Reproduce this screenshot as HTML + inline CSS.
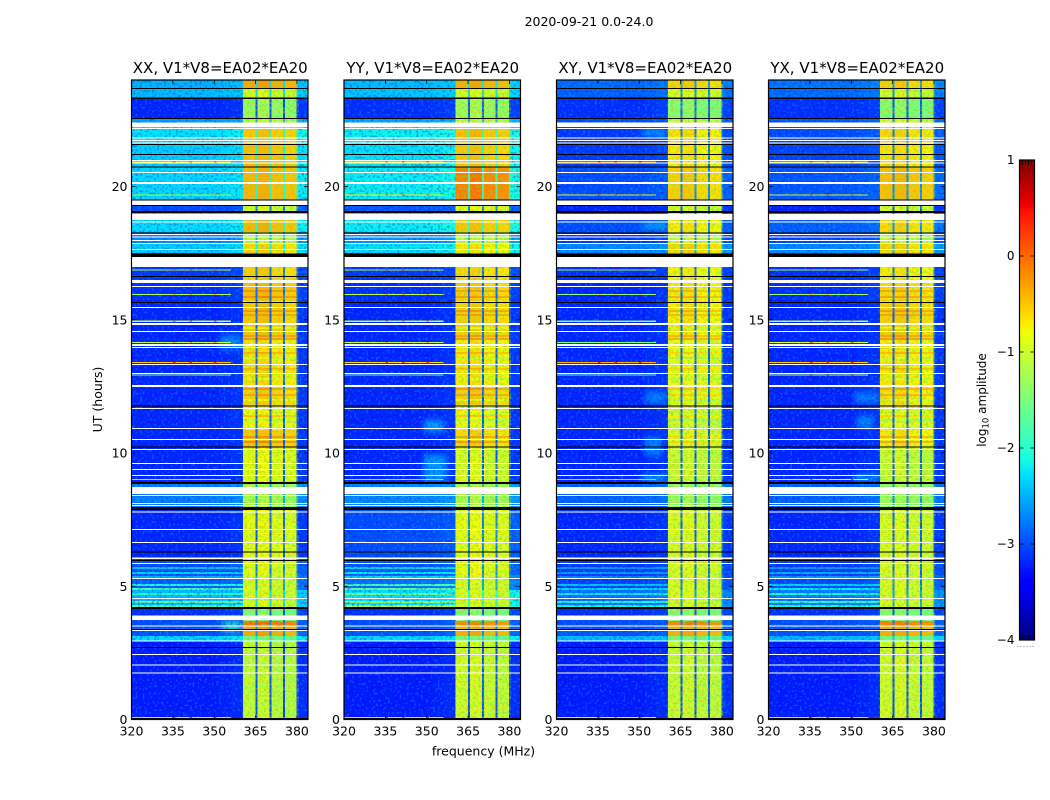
<!DOCTYPE html>
<html>
<head>
<meta charset="utf-8">
<title>2020-09-21 0.0-24.0</title>
<style>
html,body{margin:0;padding:0;background:#fff;}
svg{display:block;}
text{font-family:"DejaVu Sans","Liberation Sans",sans-serif;fill:#000;}
</style>
</head>
<body>
<svg id="fig" xmlns="http://www.w3.org/2000/svg" width="1050" height="800" viewBox="0 0 1050 800">
  <defs>
    <filter id="speckleBgLight" x="0" y="0" width="100%" height="100%" color-interpolation-filters="sRGB">
      <feTurbulence type="fractalNoise" baseFrequency="0.42" numOctaves="1" seed="4"/>
      <feColorMatrix type="matrix" values="0 0 0 0 0.1  0 0 0 0 0.68  0 0 0 0 1  8 0 0 0 -4.4"/>
    </filter>
    <filter id="speckleBgDark" x="0" y="0" width="100%" height="100%" color-interpolation-filters="sRGB">
      <feTurbulence type="fractalNoise" baseFrequency="0.42" numOctaves="1" seed="11"/>
      <feColorMatrix type="matrix" values="0 0 0 0 0  0 0 0 0 0.12  0 0 0 0 0.85  8 0 0 0 -4.2"/>
    </filter>
    <filter id="speckleRfiLight" x="0" y="0" width="100%" height="100%" color-interpolation-filters="sRGB">
      <feTurbulence type="fractalNoise" baseFrequency="0.42" numOctaves="1" seed="21"/>
      <feColorMatrix type="matrix" values="0 0 0 0 1  0 0 0 0 0.62  0 0 0 0 0  8 0 0 0 -4.2"/>
    </filter>
    <filter id="speckleRfiDark" x="0" y="0" width="100%" height="100%" color-interpolation-filters="sRGB">
      <feTurbulence type="fractalNoise" baseFrequency="0.42" numOctaves="1" seed="31"/>
      <feColorMatrix type="matrix" values="0 0 0 0 0.3  0 0 0 0 0.95  0 0 0 0 0.35  8 0 0 0 -4.2"/>
    </filter>
    <filter id="soft" x="-50%" y="-150%" width="200%" height="400%">
      <feGaussianBlur stdDeviation="3"/>
    </filter>
  </defs>
  <text x="589" y="26" text-anchor="middle" font-size="12.5">2020-09-21 0.0-24.0</text>
  <text x="483.5" y="755.5" text-anchor="middle" font-size="12.5">frequency (MHz)</text>
  <text transform="translate(102,399.5) rotate(-90)" text-anchor="middle" font-size="12.5">UT (hours)</text>
  <text transform="translate(986,400) rotate(-90)" text-anchor="middle" font-size="12">log<tspan font-size="8.5" dy="2.5">10</tspan><tspan dy="-2.5"> amplitude</tspan></text>
  <g id="panels"></g>
  <g id="colorbar"></g>
</svg>
<script>
// ---- categories ----
const panelNames = ["XX", "YY", "XY", "YX"];
const baselineLabel = "V1*V8=EA02*EA20";
const xTicks = [320, 335, 350, 365, 380];
const yTicks = [0, 5, 10, 15, 20];
const colorTicks = [1, 0, -1, -2, -3, -4];

// ---- time bands (UT hours, top to bottom) ----
const bandEdgesH = [24, 23.7, 23.32, 22.57, 22.23, 21.56, 20.73, 19.5, 19.01, 18.29, 17.84, 17.51, 16.98, 16.49, 15.74, 14.24, 12.55, 11.8, 10.86, 10.22, 8.91, 7.98, 6.0, 5.42, 4.86, 4.22, 3.89, 3.7, 3.51, 3.13, 2.95, 0];

// ---- log10 amplitude of quiet background, per band ----
const bgXX = [-2.5, -2.45, -3.2, -2.6, -2.25, -2.35, -2.3, -3, -2.28, -2.7, -2.35, -3, -3.1, -3.15, -3.2, -3.2, -3.2, -3.2, -3.2, -3.2, -2.75, -3.2, -3, -2.9, -2.45, -3.15, -3, -3, -2.95, -2.3, -3.25];
const bgYY = [-2.45, -2.4, -3.15, -2.55, -2.18, -2.25, -2.2, -2.95, -2.2, -2.65, -2.25, -3, -3.1, -3.15, -3.2, -3.2, -3.2, -3.2, -3.2, -3.2, -2.7, -3, -2.95, -2.8, -2.25, -3.15, -3, -3, -2.95, -2.3, -3.25];
const bgXY = [-2.85, -2.9, -3.15, -3, -3.1, -3.1, -3, -3.2, -3, -3.1, -2.7, -3, -3.15, -3.2, -3.2, -3.2, -3.2, -3.2, -3.2, -3.2, -2.9, -3.2, -3.1, -3.05, -2.8, -3.15, -3, -3, -2.95, -2.45, -3.25];
const bgYX = [-2.8, -2.85, -3.15, -2.95, -3, -3.05, -2.95, -3.2, -2.9, -3.05, -2.7, -3, -3.15, -3.15, -3.2, -3.2, -3.2, -3.2, -3.2, -3.2, -2.9, -3.2, -3.1, -3, -2.75, -3.15, -3, -3, -2.95, -2.45, -3.25];

// ---- log10 amplitude inside the 360-380 MHz interference block, per band ----
const rfiXX = [-0.3, -0.95, -1.35, -1.15, -0.5, -0.45, -0.4, -1, -0.4, -1.15, -0.6, -1, -0.55, -0.45, -0.5, -0.65, -0.55, -0.8, -0.5, -0.85, -1.25, -0.85, -0.9, -0.95, -0.95, -1.5, -1.5, 0, -0.3, -1.6, -1.1];
const rfiYY = [-0.35, -0.95, -1.3, -1.1, -0.45, -0.5, -0.1, -0.85, -0.5, -1.1, -0.7, -1, -0.6, -0.55, -0.55, -0.7, -0.55, -0.85, -0.6, -0.95, -1.25, -0.85, -0.85, -0.95, -0.95, -1.5, -1.5, -0.15, -0.35, -1.6, -1];
const rfiXY = [-0.55, -0.95, -1.45, -1, -0.65, -0.7, -0.55, -1, -0.7, -1.1, -0.6, -1, -0.75, -0.7, -0.7, -0.85, -0.85, -1, -0.95, -1.05, -1.35, -0.95, -0.95, -0.95, -0.95, -1.5, -1.5, -0.1, -0.35, -1.6, -1.05];
const rfiYX = [-0.55, -1, -1.45, -1, -0.6, -0.65, -0.45, -1, -0.6, -1.1, -0.6, -1, -0.7, -0.6, -0.55, -0.7, -0.65, -0.9, -0.7, -1.05, -1.35, -0.95, -0.95, -0.95, -0.95, -1.5, -1.5, -0.1, -0.35, -1.6, -1];

// ---- fine horizontal structure inside the interference block ----
const rfiStreakRowsH = [16.12, 15.89, 15.71, 15.37, 15.22, 14.73, 14.43, 14.32, 13.79, 13.6, 13.19, 12.82, 12.44, 12.22, 12.03, 11.43, 11.28, 10.64, 10.45];
const rfiStreakDelta = [0.25, 0.3, -0.3, 0.3, 0.25, -0.3, 0.25, 0.3, 0.25, -0.3, 0.25, -0.3, 0.3, 0.25, -0.3, 0.3, -0.25, 0.3, 0.35];

// ---- frequency channels (MHz edges) ----
const channelEdges = [320, 324, 328, 332, 336, 340, 344, 348, 352, 356, 360.4, 365, 365.7, 370, 370.7, 375, 375.7, 379.8, 380.4, 384];
const channelRfiWeight = [0, 0, 0, 0, 0, 0, 0, 0, 0, 0, 1, 0.1, 1, 0.1, 1, 0.1, 1, 0.1, 0];
const channelOffset = [0, 0, 0, 0, 0, 0, 0, 0, 0.03, 0.07, 0, 0, 0.05, 0, -0.05, 0, -0.08, 0, 0.1];

// ---- flagged (blank) records, [start, end] UT hours ----
const blankRows = [[22.4, 22.23], [22.2, 22.16], [21.84, 21.8], [21.75, 21.71], [21.65, 21.62], [21, 20.96], [20.9, 20.87], [20.55, 20.51], [20.17, 20.1], [19.5, 19.31], [18.97, 18.74], [18.69, 18.65], [18.22, 18.18], [18.13, 18.09], [17.99, 17.96], [17.88, 17.84], [17.66, 17.62], [17.36, 16.98], [16.49, 16.38], [16.27, 16.23], [15.48, 15.44], [14.88, 14.8], [14.58, 14.54], [14.09, 14.02], [13.98, 13.94], [13.34, 13.3], [13, 12.97], [12.55, 12.48], [11.69, 11.65], [10.94, 10.9], [10.53, 10.49], [10.15, 10.11], [9.63, 9.59], [9.4, 9.36], [9.18, 9.14], [8.73, 8.46], [8.43, 8.39], [8.13, 8.09], [8.05, 8.01], [7.81, 7.77], [7.15, 7.11], [6.66, 6.62], [6.08, 6.02], [5.87, 5.84], [5.31, 5.27], [4.56, 4.52], [3.9, 3.74], [3.53, 3.49], [3.36, 3.32], [2.97, 2.93], [2.46, 2.42], [2.07, 2.03], [1.77, 1.73]];

// ---- zero-amplitude (black) records, [start, end] UT hours ----
const zeroRows = [[23.7, 23.66], [23.34, 23.29], [22.57, 22.53], [21.6, 21.56], [21.22, 21.18], [20.75, 20.71], [19.52, 19.49], [19.31, 19.27], [19.08, 19.01], [18.28, 18.24], [17.49, 17.36], [16.64, 16.61], [15.67, 15.63], [11.78, 11.75], [10.25, 10.21], [8.91, 8.84], [7.98, 7.86], [6.31, 6.27], [5.99, 5.95], [4.22, 4.15], [3.4, 3.36], [2.72, 2.68], [0.06, 0]];

// ---- narrow-band hot records below the interference block ----
const hotRowsH = [20.94, 19.71, 16.89, 15.97, 14.97, 14.17, 13.42, 12.95, 9.03, 0.1];
const hotXX = [-0.8, -1.3, -1.1, -1.2, -1, -1.1, -0.5, -1.4, -1.5, -0.6];
const hotYY = [-0.8, -0.9, -1.1, -1.1, -1.1, -1.1, -0.6, -1.6, -1.7, -0.6];
const hotXY = [-0.5, -1, -1.3, -1.4, -1.5, -1.6, -0.4, -1.8, -1.9, -0.7];
const hotYX = [-0.9, -1.1, -1.2, -1.3, -1.2, -0.9, -0.5, -1, -0.8, -0.6];
const hotEndMHz = 356;
const spikeMHz = [335, 350, 341];

// ---- broadband streak records at 4-6 UT ----
const streakRowsH = [5.72, 5.54, 5.39, 5.09, 4.94, 4.75, 4.45, 4.3];
const streakXX = [-2.4, -2.3, -2.5, -2.1, -1.8, -2, -1.7, -1.8];
const streakYY = [-2.3, -2.2, -2.3, -1.8, -1.7, -1.6, -1.4, -1.1];
const streakXY = [-2.6, -2.6, -2.7, -2.4, -2.3, -2.2, -2.1, -2.1];
const streakYX = [-2.6, -2.5, -2.6, -2.3, -2.2, -2.1, -2, -2];

// ---- diffuse emission patches: panel index, UT start, UT end, MHz start, MHz end, level ----
const patchPanel = [1, 1, 2, 2, 2, 2, 2, 3, 3, 3, 0, 0];
const patchStartH = [11.23, 9.93, 12.3, 10.6, 9.2, 22.12, 18.63, 12.3, 11.4, 9.2, 14.4, 3.7];
const patchEndH = [10.79, 8.95, 11.85, 9.9, 8.95, 21.93, 18.44, 11.85, 10.95, 8.95, 13.9, 3.3];
const patchLowMHz = [349, 349, 352, 352, 351, 351, 351, 351, 352, 351, 352, 353];
const patchHighMHz = [356, 357, 360, 358, 360, 360, 360, 360, 358, 360, 360, 360];
const patchLevel = [-2.3, -2.4, -2.6, -2.55, -2.4, -2.3, -2.3, -2.65, -2.55, -2.4, -2.5, -1.9];

const bgByPanel = [bgXX, bgYY, bgXY, bgYX];
const rfiByPanel = [rfiXX, rfiYY, rfiXY, rfiYX];
const hotByPanel = [hotXX, hotYY, hotXY, hotYX];
const streakByPanel = [streakXX, streakYY, streakXY, streakYX];

// ---- axis functions ----
const NS = "http://www.w3.org/2000/svg";
const panelLeft = [131.5, 344, 556.5, 768.5];
const panelWidth = 176.5;
const plotTop = 80, plotBottom = 719.5;
const xMin = 320, xMax = 384, yMin = 0, yMax = 24;
const xScale = (p, mhz) => panelLeft[p] + (mhz - xMin) / (xMax - xMin) * panelWidth;
const yScale = h => plotBottom - (h - yMin) / (yMax - yMin) * (plotBottom - plotTop);
const cbLeft = 1019.5, cbWidth = 15, cbTop = 160, cbBottom = 640;
const cbScale = v => cbBottom - (v + 4) / 5 * (cbBottom - cbTop);

function jet(v) {
  const t = Math.max(0, Math.min(1, (v + 4) / 5));
  let r, g, b;
  r = t < .35 ? 0 : t < .66 ? (t - .35) / .31 : t < .89 ? 1 : 1 - .5 * (t - .89) / .11;
  g = t < .125 ? 0 : t < .375 ? (t - .125) / .25 : t < .64 ? 1 : t < .91 ? 1 - (t - .64) / .27 : 0;
  b = t < .11 ? .5 + .5 * t / .11 : t < .34 ? 1 : t < .65 ? 1 - (t - .34) / .31 : 0;
  return "rgb(" + Math.round(r * 255) + "," + Math.round(g * 255) + "," + Math.round(b * 255) + ")";
}
function make(tag, parent, attrs) {
  const el = document.createElementNS(NS, tag);
  for (const k in attrs) el.setAttribute(k, attrs[k]);
  parent.appendChild(el);
  return el;
}
function bandIndex(h) {
  for (let b = 0; b < bandEdgesH.length - 1; b++) {
    if (h <= bandEdgesH[b] && h >= bandEdgesH[b + 1]) return b;
  }
  return bandEdgesH.length - 2;
}
function bandLevel(p, b, c, delta) {
  const bg = bgByPanel[p][b], rfi = rfiByPanel[p][b], wt = channelRfiWeight[c];
  return bg + wt * (rfi + delta - bg) + channelOffset[c];
}

const panelsRoot = document.getElementById("panels");
panelNames.forEach((name, p) => {
  const g = make("g", panelsRoot, {});
  
  

  const x0 = xScale(p, xMin), x1 = xScale(p, xMax), w = x1 - x0;
  const rfiX0 = xScale(p, 360.4), rfiX1 = xScale(p, 380.4);

  // heatmap cells
  const cells = make("g", g, {"shape-rendering": "crispEdges"});
  
  
  for (let b = 0; b < bandEdgesH.length - 1; b++) {
    for (let c = 0; c < channelEdges.length - 1; c++) {
      const cell = make("rect", cells, {
        x: xScale(p, channelEdges[c]).toFixed(2),
        y: yScale(bandEdgesH[b]).toFixed(2),
        width: (xScale(p, channelEdges[c + 1]) - xScale(p, channelEdges[c])).toFixed(2),
        height: (yScale(bandEdgesH[b + 1]) - yScale(bandEdgesH[b])).toFixed(2),
        fill: jet(bandLevel(p, b, c, 0))
      });
      
      
    }
  }

  // fine structure in the interference block
  rfiStreakRowsH.forEach((h, i) => {
    const b = bandIndex(h);
    channelRfiWeight.forEach((wt, c) => {
      if (wt !== 1) return;
      const st = make("rect", g, {
        x: xScale(p, channelEdges[c]).toFixed(2),
        y: yScale(h).toFixed(2),
        width: (xScale(p, channelEdges[c + 1]) - xScale(p, channelEdges[c])).toFixed(2),
        height: 2,
        fill: jet(bandLevel(p, b, c, rfiStreakDelta[i])),
        "shape-rendering": "crispEdges"
      });
      
      
    });
  });

  // diffuse patches
  patchPanel.forEach((pp, i) => {
    if (pp !== p) return;
    const patch = make("rect", g, {
      x: xScale(p, patchLowMHz[i]).toFixed(2),
      y: yScale(patchStartH[i]).toFixed(2),
      width: (xScale(p, patchHighMHz[i]) - xScale(p, patchLowMHz[i])).toFixed(2),
      height: (yScale(patchEndH[i]) - yScale(patchStartH[i])).toFixed(2),
      fill: jet(patchLevel[i]),
      opacity: 0.7,
      filter: "url(#soft)"
    });
    
    
  });

  // streaks
  streakRowsH.forEach((h, i) => {
    const streak = make("rect", g, {
      x: x0.toFixed(2), y: yScale(h).toFixed(2),
      width: (rfiX0 - x0).toFixed(2), height: 2,
      fill: jet(streakByPanel[p][i]), "shape-rendering": "crispEdges"
    });
    
    
  });

  // sample-to-sample scatter texture (appearance only)
  [[x0, rfiX0, "speckleBgLight", .34], [x0, rfiX0, "speckleBgDark", .32],
   [rfiX1, x1, "speckleBgLight", .34], [rfiX1, x1, "speckleBgDark", .32],
   [rfiX0, rfiX1, "speckleRfiLight", .42], [rfiX0, rfiX1, "speckleRfiDark", .42]].forEach(s => {
    const tex = make("rect", g, {x: s[0], y: plotTop, width: s[1] - s[0], height: plotBottom - plotTop, filter: "url(#" + s[2] + ")", opacity: s[3]});
    
    
  });

  // hot rows
  hotRowsH.forEach((h, i) => {
    const hot = make("rect", g, {
      x: x0.toFixed(2), y: yScale(h).toFixed(2),
      width: (xScale(p, hotEndMHz) - x0).toFixed(2), height: 1.2,
      fill: jet(hotByPanel[p][i]), "shape-rendering": "crispEdges"
    });
    
    
    spikeMHz.forEach(m => {
      const s = make("rect", g, {
        x: xScale(p, m).toFixed(2), y: yScale(h).toFixed(2),
        width: 2.5, height: 1.2, fill: jet(hotByPanel[p][i] + 0.9), "shape-rendering": "crispEdges"
      });
      
      
    });
  });

  // blanked records
  blankRows.forEach(r => {
    const row = make("rect", g, {
      x: x0.toFixed(2), y: yScale(r[0]).toFixed(2), width: w.toFixed(2),
      height: Math.max(1, yScale(r[1]) - yScale(r[0])).toFixed(2), fill: "#fff", "shape-rendering": "crispEdges"
    });
    
    
  });
  // zero records
  zeroRows.forEach(r => {
    const row = make("rect", g, {
      x: x0.toFixed(2), y: yScale(r[0]).toFixed(2), width: w.toFixed(2),
      height: Math.max(1, yScale(r[1]) - yScale(r[0])).toFixed(2), fill: "#000", "shape-rendering": "crispEdges"
    });
    
    
  });

  // frame
  const frame = make("rect", g, {x: x0, y: plotTop, width: w, height: plotBottom - plotTop, fill: "none", stroke: "#000", "stroke-width": 1.2});
  
  

  // x ticks
  xTicks.forEach(t => {
    const x = xScale(p, t);
    const tb = make("line", g, {x1: x, x2: x, y1: plotBottom, y2: plotBottom - 4, stroke: "#000", "stroke-width": .8});
    
    
    const tt = make("line", g, {x1: x, x2: x, y1: plotTop, y2: plotTop + 4, stroke: "#000", "stroke-width": .8});
    
    
    const lb = make("text", g, {x: x, y: plotBottom + 16, "text-anchor": "middle", "font-size": 12.5});
    
    
    lb.textContent = t;
  });
  // y ticks
  yTicks.forEach(t => {
    const y = yScale(t);
    const tl = make("line", g, {x1: x0, x2: x0 + 4, y1: y, y2: y, stroke: "#000", "stroke-width": .8});
    
    
    const tr = make("line", g, {x1: x1, x2: x1 - 4, y1: y, y2: y, stroke: "#000", "stroke-width": .8});
    
    
    const lb = make("text", g, {x: x0 - 4, y: y + 4.5, "text-anchor": "end", "font-size": 12.5});
    
    
    lb.textContent = t;
  });

  // panel title
  const title = make("text", g, {x: x0 + w / 2 + 0.5, y: 73, "text-anchor": "middle", "font-size": 15});
  
  
  title.textContent = name + ", " + baselineLabel;
});

// colorbar
const cb = document.getElementById("colorbar");
for (let py = cbTop; py < cbBottom; py += 2) {
  const v = 1 - (py + 1 - cbTop) / (cbBottom - cbTop) * 5;
  const s = make("rect", cb, {x: cbLeft, y: py, width: cbWidth, height: 2, fill: jet(v), "shape-rendering": "crispEdges"});
  
  
}
const cbFrame = make("rect", cb, {x: cbLeft, y: cbTop, width: cbWidth, height: cbBottom - cbTop, fill: "none", stroke: "#000", "stroke-width": 1.2});


colorTicks.forEach(t => {
  const y = cbScale(t);
  const a = make("line", cb, {x1: cbLeft, x2: cbLeft + 4, y1: y, y2: y, stroke: "#000", "stroke-width": .8});
  
  
  const b = make("line", cb, {x1: cbLeft + cbWidth, x2: cbLeft + cbWidth - 4, y1: y, y2: y, stroke: "#000", "stroke-width": .8});
  
  
  const lb = make("text", cb, {x: cbLeft - 5, y: y + 4, "text-anchor": "end", "font-size": 12});
  
  
  lb.textContent = String(t).replace("-", "\u2212");
});
for (let i = 1; i <= 4; i++) {
  const x = cbLeft + i * 3;
  const top = make("line", cb, {x1: x, x2: x, y1: cbTop, y2: cbTop + 5, stroke: "#000", "stroke-width": .8});
  
  
  const bottom = make("line", cb, {x1: x, x2: x, y1: cbBottom, y2: cbBottom - 5, stroke: "#000", "stroke-width": .8});
  
  
}
for (let i = 0; i < 6; i++) {
  const dot = make("rect", cb, {x: 1017.5 + i * 3, y: 646, width: 1, height: 1, fill: "#888"});
  
  
}
</script>
</body>
</html>
